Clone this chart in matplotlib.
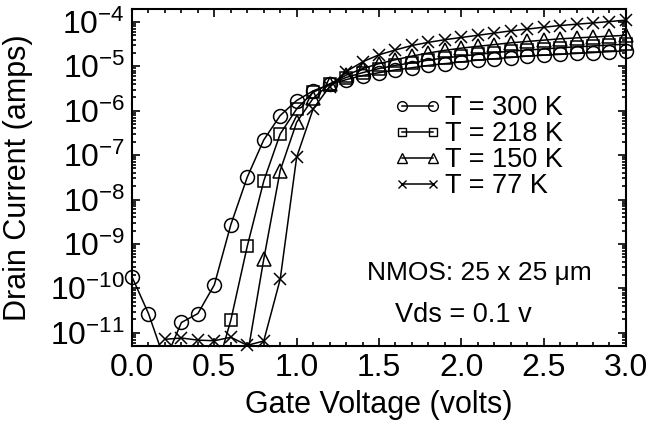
import matplotlib
matplotlib.use("Agg")
import matplotlib.pyplot as plt
from matplotlib.ticker import LogLocator, MultipleLocator, NullFormatter
import numpy as np

plt.rcParams["font.family"] = ["Liberation Sans", "DejaVu Sans"]
plt.rcParams["mathtext.default"] = "regular"
plt.rcParams["axes.unicode_minus"] = False

# Gate voltage (V) and drain current (A)
vg_300 = [0.0, 0.1, 0.2, 0.3, 0.4, 0.5, 0.6, 0.7, 0.8, 0.9, 1.0, 1.1, 1.2, 1.3, 1.4, 1.5,
          1.6, 1.7, 1.8, 1.9, 2.0, 2.1, 2.2, 2.3, 2.4, 2.5, 2.6, 2.7, 2.8, 2.9, 3.0]
id_300 = [1.8e-10, 2.7e-11, 2.3e-12, 1.7e-11, 2.7e-11, 1.2e-10, 2.7e-9, 3.2e-8, 2.2e-7,
          7.8e-7, 1.7e-6, 2.8e-6, 3.9e-6, 5.0e-6, 6.2e-6, 7.2e-6, 8.3e-6, 9.3e-6, 1.05e-5,
          1.15e-5, 1.26e-5, 1.38e-5, 1.48e-5, 1.58e-5, 1.70e-5, 1.78e-5, 1.86e-5, 1.95e-5,
          2.04e-5, 2.14e-5, 2.24e-5]

vg_218 = [0.5, 0.6, 0.7, 0.8, 0.9, 1.0, 1.1, 1.2, 1.3, 1.4, 1.5, 1.6, 1.7, 1.8, 1.9, 2.0,
          2.1, 2.2, 2.3, 2.4, 2.5, 2.6, 2.7, 2.8, 2.9, 3.0]
id_218 = [1.0e-12, 1.9e-11, 8.9e-10, 2.6e-8, 3.0e-7, 1.1e-6, 2.6e-6, 4.0e-6, 5.6e-6, 7.2e-6,
          8.9e-6, 1.05e-5, 1.2e-5, 1.38e-5, 1.55e-5, 1.7e-5, 1.86e-5, 2.04e-5, 2.19e-5,
          2.34e-5, 2.45e-5, 2.63e-5, 2.75e-5, 2.88e-5, 3.02e-5, 3.16e-5]

vg_150 = [0.7, 0.8, 0.9, 1.0, 1.1, 1.2, 1.3, 1.4, 1.5, 1.6, 1.7, 1.8, 1.9, 2.0, 2.1, 2.2,
          2.3, 2.4, 2.5, 2.6, 2.7, 2.8, 2.9, 3.0]
id_150 = [3.0e-12, 4.5e-10, 4.5e-8, 5.5e-7, 1.9e-6, 4.0e-6, 6.3e-6, 8.9e-6, 1.15e-5, 1.41e-5,
          1.7e-5, 2.0e-5, 2.29e-5, 2.57e-5, 2.82e-5, 3.09e-5, 3.39e-5, 3.63e-5, 3.89e-5,
          4.17e-5, 4.37e-5, 4.57e-5, 4.79e-5, 5.0e-5]

vg_77 = [0.2, 0.3, 0.4, 0.5, 0.6, 0.7, 0.8, 0.9, 1.0, 1.1, 1.2, 1.3, 1.4, 1.5, 1.6, 1.7,
         1.8, 1.9, 2.0, 2.1, 2.2, 2.3, 2.4, 2.5, 2.6, 2.7, 2.8, 2.9, 3.0]
id_77 = [7.1e-12, 7.6e-12, 6.8e-12, 6.6e-12, 7.9e-12, 5.2e-12, 6.5e-12, 1.6e-10, 9.0e-8,
         1.1e-6, 3.5e-6, 7.6e-6, 1.26e-5, 1.82e-5, 2.34e-5, 2.95e-5, 3.47e-5, 3.98e-5,
         4.47e-5, 5.0e-5, 5.6e-5, 6.3e-5, 6.9e-5, 7.6e-5, 8.3e-5, 8.9e-5, 9.5e-5, 1.02e-4,
         1.10e-4]

labels = ["T = 300 K", "T = 218 K", "T = 150 K", "T = 77 K"]
markers = ["o", "s", "^", "x"]
sizes = [10, 8.5, 9.5, 8]

Y_MIN, Y_MAX = 10 ** -11.3, 10 ** -3.71

fig = plt.figure(figsize=(6.52, 4.32), dpi=100)
ax = fig.add_axes([0.2025, 0.199, 0.7575, 0.780])

series = [(vg_300, id_300), (vg_218, id_218), (vg_150, id_150), (vg_77, id_77)]
for (vg, cur), lab, m, ms in zip(series, labels, markers, sizes):
    vg = np.array(vg)
    cur = np.array(cur)
    # line is clipped to the frame, markers inside the range are not
    ax.plot(vg, cur, color="black", linewidth=1.1)
    keep = cur >= Y_MIN * 0.97
    ax.plot(vg[keep], cur[keep], linestyle="none", color="black", marker=m,
            markersize=ms, fillstyle="none", markeredgewidth=1.1, clip_on=False)
    # legend proxy
    ax.plot([], [], color="black", linewidth=1.1, marker=m, markersize=ms,
            fillstyle="none", markeredgewidth=1.0, label=lab)

ax.set_yscale("log")
ax.set_xlim(0.0, 3.0)
ax.set_ylim(Y_MIN, Y_MAX)

ax.set_xticks(np.arange(0, 3.01, 0.5))
ax.set_xticklabels([f"{v:.1f}" for v in np.arange(0, 3.01, 0.5)])
ax.xaxis.set_minor_locator(MultipleLocator(0.1))

decades = list(range(-11, -3))
ax.set_yticks([10.0 ** d for d in decades])
ax.set_yticklabels([f"$10^{{{d}}}$" for d in decades])
ax.yaxis.set_minor_locator(LogLocator(base=10, subs=np.arange(2, 10), numticks=20))
ax.yaxis.set_minor_formatter(NullFormatter())

ax.tick_params(which="both", direction="in", top=True, right=True, width=1.2)
ax.tick_params(which="major", length=6, labelsize=23, pad=5)
ax.tick_params(which="minor", length=3)
for sp in ax.spines.values():
    sp.set_linewidth(1.5)

ax.set_xlabel("Gate Voltage (volts)", fontsize=22, labelpad=5)
ax.set_ylabel("Drain Current (amps)", fontsize=22, labelpad=12)

ax.legend(loc="upper left", bbox_to_anchor=(0.508, 0.776), frameon=False, fontsize=19.5,
          numpoints=2, handlelength=1.75, handletextpad=0.15, labelspacing=0.0,
          markerscale=0.7, borderaxespad=0)

ax.text(0.4757, 0.2166, "NMOS: 25 x 25 \u03bcm", transform=ax.transAxes, fontsize=19,
        ha="left", va="center")
ax.text(0.532, 0.092, "Vds = 0.1 v", transform=ax.transAxes, fontsize=19.5,
        ha="left", va="center")

fig.savefig("out.png", dpi=100, facecolor="white")
